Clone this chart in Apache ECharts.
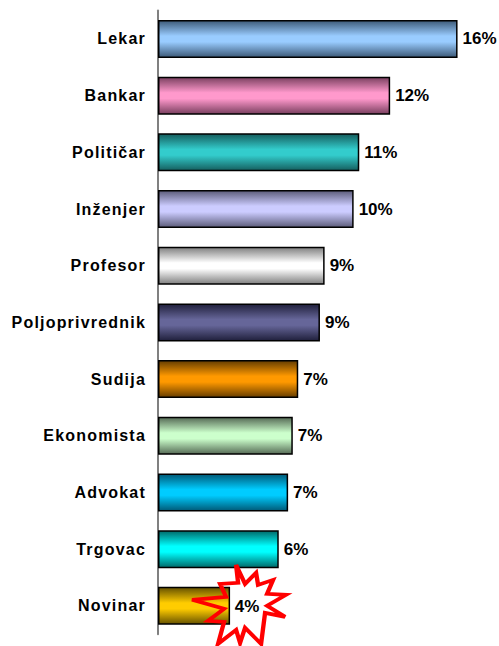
<!DOCTYPE html>
<html><head><meta charset="utf-8">
<style>html,body{margin:0;padding:0;background:#fff}#c{width:499px;height:646px}#c text{letter-spacing:1.2px}#c text[style*="17px"]{letter-spacing:0}</style>
<script src="https://cdn.jsdelivr.net/npm/echarts@6/dist/echarts.min.js"></script>
</head><body><div id="c"></div>
<script>
const categories = ['Lekar','Bankar','Političar','Inženjer','Profesor','Poljoprivrednik','Sudija','Ekonomista','Advokat','Trgovac','Novinar'];
const values = [16.0,12.4,10.75,10.45,8.9,8.65,7.49,7.2,6.95,6.45,3.85];
const valueLabels = ['16%','12%','11%','10%','9%','9%','7%','7%','7%','6%','4%'];
const midColors = ['#99CCFF','#FF99CC','#33CCCC','#CCCCFF','#FFFFFF','#666699','#FF9900','#CCFFCC','#00CCFF','#00FFFF','#FFCC00'];
const edgeColors = ['#3d5a78','#7a4060','#155e5e','#5c5c7a','#808080','#20203c','#663d00','#566b56','#005a78','#006a6a','#665200'];
const burst = 'path://M44,0 L53,19 L64,8 L66,20 L81,15 L75,29 L94,30 L75,41 L93,52 L73,48 L69,79 L53,63 L48,78 L44,65 L26,79 L32,57 L16,56 L32,44 L0,35 L34,32 L28,19 L46,18 Z';

const chart = echarts.init(document.getElementById('c'), null, {renderer:'svg'});
const font = {fontFamily:'"Liberation Sans", Arial, sans-serif', fontWeight:'bold', color:'#000'};
const last = values.length-1;
const burstPoint = [[values[last], categories[last]]];
chart.setOption({
  animation:false,
  grid:{left:158, top:10.6, width:337, height:623.6, containLabel:false},
  xAxis:{type:'value', min:0, max:18, show:false},
  yAxis:{type:'category', inverse:true, data:categories,
    axisLine:{lineStyle:{color:'#808080', width:2}}, axisTick:{show:false},
    axisLabel:{...font, fontSize:16, margin:12}},
  series:[{
    type:'scatter', z:1, silent:true, clip:false, data:burstPoint,
    symbol:burst, symbolSize:[94,79], symbolOffset:[9,-1.5],
    itemStyle:{color:'#fff', opacity:1}
  },{
    type:'bar', z:2, barWidth:38,
    data:values.map((v,i)=>({
      value:v,
      itemStyle:{borderColor:'#000', borderWidth:1.5,
        color:{type:'linear',x:0,y:0,x2:0,y2:1,colorStops:[
          {offset:0,color:edgeColors[i]},{offset:0.42,color:midColors[i]},
          {offset:0.58,color:midColors[i]},{offset:1,color:edgeColors[i]}]}},
      label:{show:i<last}
    })),
    label:{position:'right', distance:5, ...font, fontSize:17,
      formatter:p=>valueLabels[p.dataIndex]}
  },{
    type:'scatter', z:3, silent:true, clip:false, data:burstPoint,
    symbol:burst, symbolSize:[94,79], symbolOffset:[9,-1.5],
    itemStyle:{color:'rgba(255,255,255,0)', borderColor:'#FF0000', borderWidth:4, opacity:1},
    label:{show:true, position:'inside', offset:[8,2], ...font, fontSize:17, formatter:valueLabels[last]}
  }]
});
</script></body></html>
